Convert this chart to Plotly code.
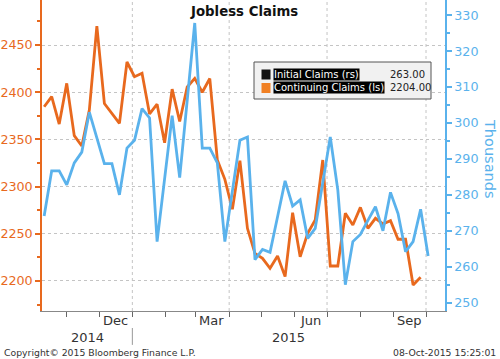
import plotly.graph_objects as go
import pandas as pd

# ---- data ----
start = "2014-10-11"
initial_claims = [274.1, 286.7, 286.7, 282.8, 288.9, 291.9, 303.0, 295.8, 288.7, 288.7,
                  280.0, 293.0, 295.2, 304.0, 301.4, 267.0, 284.5, 302.0, 284.8, 307.0,
                  327.8, 293.0, 293.0, 288.9, 267.0, 281.1, 295.2, 296.1, 262.0, 264.8,
                  264.0, 273.9, 283.9, 276.9, 278.6, 267.9, 270.7, 283.4, 296.1, 281.4,
                  255.0, 267.0, 269.0, 272.9, 276.7, 270.0, 280.7, 274.8, 264.2, 267.0,
                  276.0, 263.0]
continuing_claims = [2384.6, 2395.4, 2366.2, 2409.4, 2354.0, 2343.0, 2381.0, 2470.0, 2388.0, 2377.6,
                     2367.0, 2432.0, 2416.4, 2420.0, 2377.0, 2387.3, 2346.5, 2403.2, 2369.0, 2405.5,
                     2414.7, 2400.0, 2414.5, 2328.2, 2307.7, 2276.0, 2327.5, 2255.8, 2229.3, 2224.0,
                     2213.4, 2226.4, 2204.6, 2272.4, 2225.7, 2250.5, 2264.6, 2328.2, 2215.9, 2215.9,
                     2271.7, 2259.3, 2278.0, 2255.8, 2266.4, 2260.4, 2263.9, 2244.2, 2244.2, 2195.8,
                     2204.0]
ic_dates = pd.date_range(start, periods=len(initial_claims), freq="7D")
cc_dates = pd.date_range(start, periods=len(continuing_claims), freq="7D")

month_ticks = pd.date_range("2014-11-01", "2015-10-01", freq="MS")
quarter_lines = ["2015-01-01", "2015-04-01", "2015-07-01", "2015-10-01"]
month_labels = ["Dec", "Mar", "Jun", "Sep"]
month_label_pos = ["2014-12-16", "2015-03-16", "2015-06-16", "2015-09-16"]
year_labels = ["2014", "2015"]
year_label_pos = ["2014-11-20", "2015-05-26"]

ORANGE = "#E8691E"
BLUE = "#5AB2EC"
FONT = "DejaVu Sans"

fig = go.Figure()
fig.add_trace(go.Scatter(x=cc_dates, y=continuing_claims, mode="lines",
                         line=dict(color=ORANGE, width=2.8), yaxis="y", showlegend=False))
fig.add_trace(go.Scatter(x=ic_dates, y=initial_claims, mode="lines",
                         line=dict(color=BLUE, width=2.8), yaxis="y2", showlegend=False))

fig.update_layout(
    width=500, height=359,
    margin=dict(l=42, r=55, t=0, b=48, autoexpand=False),
    paper_bgcolor="white", plot_bgcolor="white",
    font=dict(family=FONT, size=12.7, color="#333"),
    xaxis=dict(type="date", range=["2014-10-09", "2015-10-18 16:00"],
               tickvals=list(month_ticks), ticktext=[""] * len(month_ticks),
               ticks="outside", ticklen=5, tickcolor="#666",
               showline=True, linecolor="#888", linewidth=1,
               showgrid=False, zeroline=False, automargin=False),
    yaxis=dict(range=[2168.2, 2497.7], dtick=50, tick0=2200,
               ticks="outside", ticklen=5, tickcolor=ORANGE, tickwidth=1.5,
               tickfont=dict(color=ORANGE, size=12.7, family=FONT),
               showline=True, linecolor=ORANGE, linewidth=1.5,
               showgrid=True, gridcolor="#c4c4c4", griddash="dot", gridwidth=1,
               zeroline=False, automargin=False,
               minor=dict(dtick=25, tick0=2200, ticks="outside", ticklen=3,
                          tickcolor=ORANGE, showgrid=False)),
    yaxis2=dict(range=[247.7, 334.2], dtick=10, tick0=250, overlaying="y", side="right",
                ticks="outside", ticklen=5, tickcolor=BLUE, tickwidth=1.5,
                tickfont=dict(color=BLUE, size=12.7, family=FONT),
                showline=True, linecolor=BLUE, linewidth=1.5,
                showgrid=False, zeroline=False, automargin=False,
                minor=dict(dtick=5, tick0=250, ticks="outside", ticklen=3,
                           tickcolor=BLUE, showgrid=False)),
)

shapes = []
for q in quarter_lines:
    shapes.append(dict(type="line", xref="x", yref="paper", x0=q, x1=q, y0=0, y1=1,
                       line=dict(color="#c4c4c4", width=1, dash="dot"), layer="below"))
# year separator
shapes.append(dict(type="line", xref="x", yref="paper", x0="2015-01-01", x1="2015-01-01",
                   y0=-0.0547, y1=-0.109, line=dict(color="#999", width=1)))


def px(x):
    return (x - 42) / 403.0


def py(y):
    return (311 - y) / 311.0


# legend box
shapes.append(dict(type="rect", xref="paper", yref="paper",
                   x0=px(254), x1=px(431), y0=py(99), y1=py(62),
                   fillcolor="#f1f1f1", line=dict(color="#555", width=1)))
shapes.append(dict(type="rect", xref="paper", yref="paper",
                   x0=px(261.5), x1=px(270.5), y0=py(79.5), y1=py(69.5),
                   fillcolor="#111", line=dict(width=0)))
shapes.append(dict(type="rect", xref="paper", yref="paper",
                   x0=px(261.5), x1=px(270.5), y0=py(93), y1=py(83),
                   fillcolor="#F07F22", line=dict(width=0)))
fig.update_layout(shapes=shapes)

ann = []
ann.append(dict(text="<b>Jobless Claims</b>", xref="paper", yref="paper", x=0.5, y=py(11.5),
                xanchor="center", yanchor="middle", showarrow=False,
                font=dict(family=FONT, size=13.3, color="#111")))
for lab, pos in zip(month_labels, month_label_pos):
    ann.append(dict(text=lab, xref="x", yref="paper", x=pos, y=py(320),
                    xanchor="center", yanchor="middle", showarrow=False,
                    font=dict(family=FONT, size=13, color="#333")))
for lab, pos in zip(year_labels, year_label_pos):
    ann.append(dict(text=lab, xref="x", yref="paper", x=pos, y=py(337),
                    xanchor="center", yanchor="middle", showarrow=False,
                    font=dict(family=FONT, size=13, color="#333")))
ann.append(dict(text="Thousands", xref="paper", yref="paper", x=px(490), y=py(159),
                xanchor="center", yanchor="middle", showarrow=False, textangle=90,
                font=dict(family=FONT, size=14.5, color=BLUE)))
ann.append(dict(text="Copyright\u00a9 2015 Bloomberg Finance L.P.", xref="paper", yref="paper",
                x=px(2), y=py(352.5), xanchor="left", yanchor="middle", showarrow=False,
                font=dict(family=FONT, size=9.3, color="#333")))
ann.append(dict(text="08-Oct-2015 15:25:01", xref="paper", yref="paper",
                x=px(498), y=py(352.5), xanchor="right", yanchor="middle", showarrow=False,
                font=dict(family=FONT, size=9.3, color="#333")))
# legend texts
ann.append(dict(text="Initial Claims (rs)", xref="paper", yref="paper", x=px(272.5), y=py(74.8),
                xanchor="left", yanchor="middle", showarrow=False, bgcolor="#000", borderpad=0,
                font=dict(family=FONT, size=10, color="white")))
ann.append(dict(text="Continuing Claims (ls)", xref="paper", yref="paper", x=px(272.5), y=py(88),
                xanchor="left", yanchor="middle", showarrow=False, bgcolor="#000", borderpad=0,
                font=dict(family=FONT, size=10, color="white")))
ann.append(dict(text=f"{initial_claims[-1]:.2f}", xref="paper", yref="paper", x=px(387.5), y=py(74.8),
                xanchor="left", yanchor="middle", showarrow=False,
                font=dict(family=FONT, size=10, color="#222")))
ann.append(dict(text=f"{continuing_claims[-1]:.2f}", xref="paper", yref="paper", x=px(387.5), y=py(88),
                xanchor="left", yanchor="middle", showarrow=False,
                font=dict(family=FONT, size=10, color="#222")))
fig.update_layout(annotations=ann)

fig.write_html("out.html",
               config={"displayModeBar": False},
               post_script="document.body.style.margin='0';document.body.style.padding='0';"
                           "document.body.style.overflow='hidden';")
